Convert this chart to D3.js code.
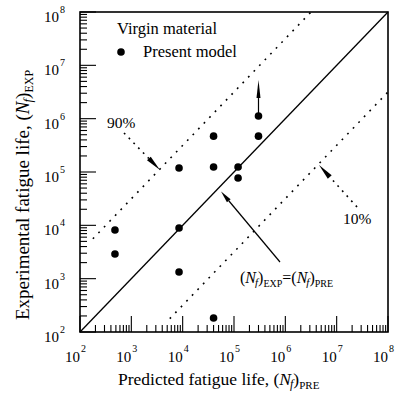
<!DOCTYPE html>
<html>
<head>
<meta charset="utf-8">
<script src="https://cdn.jsdelivr.net/npm/d3@7"></script>
<style>
  body { margin: 0; background: #fff; }
  svg { display: block; font-family: "Liberation Serif", "Times New Roman", serif; }
</style>
</head>
<body>
<div id="chart"></div>
<script>
// data (both axes are cycles to failure)
const predicted    = [480, 480, 8500, 8500, 8500, 3.0e5, 4.0e4, 3.0e5, 4.0e4, 1.2e5, 1.2e5, 4.0e4];
const experimental = [8200, 2900, 8900, 1330, 1.19e5, 1.12e6, 4.7e5, 4.7e5, 1.24e5, 1.24e5, 7.7e4, 183];
const decades = [1e2, 1e3, 1e4, 1e5, 1e6, 1e7, 1e8];
const exponents = [2, 3, 4, 5, 6, 7, 8];

// reference lines
const equalityLine = [[1e2, 1e2], [1e8, 1e8]];
const upperBand = [[178, 5.6e3], [3.16e6, 1e8]];   // 90 %
const lowerBand = [[5.6e3, 178], [1e8, 3.16e6]];   // 10 %

// annotations (data coordinates)
const note90 = { text: '90%', at: [336, 6.7e5], from: [720, 5.4e5], to: [3620, 1.09e5] };
const note10 = { text: '10%', at: [1.33e7, 1.06e4], from: [2.49e7, 2.21e4], to: [4.53e6, 1.35e5] };
const noteEq = { at: [1.31e5, 830], from: [7.87e5, 2054], to: [5.6e4, 4.3e4] };
const runout = { from: [3.0e5, 1.12e6], to: [3.0e5, 5.3e6] };

const W = 401, H = 398;
const box = { left: 80, right: 388, top: 12, bottom: 332 };

const svg = d3.select('#chart').append('svg')
  .attr('width', W)
  .attr('height', H);

const x = d3.scaleLog().domain([1e2, 1e8]).range([box.left, box.right]);
const y = d3.scaleLog().domain([1e2, 1e8]).range([box.bottom, box.top]);

// minor ticks 2..9 of every decade
const minors = [];
decades.slice(0, -1).forEach(d => {
  for (let k = 2; k <= 9; k++) minors.push(d * k);
});
const ticks = minors.map(v => ({ v, len: 7 }))
  .concat(decades.map(v => ({ v, len: 16 })));

// ticks point into the plot
svg.append('g')
  .selectAll('line')
  .data(ticks)
  .join('line')
  .attr('x1', d => x(d.v)).attr('x2', d => x(d.v))
  .attr('y1', box.bottom).attr('y2', d => box.bottom - d.len)
  .attr('stroke', '#000')
  .attr('stroke-width', 1.1);
svg.append('g')
  .selectAll('line')
  .data(ticks)
  .join('line')
  .attr('y1', d => y(d.v)).attr('y2', d => y(d.v))
  .attr('x1', box.left).attr('x2', d => box.left + d.len)
  .attr('stroke', '#000')
  .attr('stroke-width', 1.1);

// frame
svg.append('rect')
  .attr('x', box.left)
  .attr('y', box.top)
  .attr('width', box.right - box.left)
  .attr('height', box.bottom - box.top)
  .attr('fill', 'none')
  .attr('stroke', '#000')
  .attr('stroke-width', 1.6);

// tick labels: 10 with superscript exponent
decades.forEach((d, i) => {
  svg.append('text')
    .attr('x', x(d))
    .attr('y', 362)
    .attr('font-size', 15)
    .attr('text-anchor', 'end')
    .text('10');
  svg.append('text')
    .attr('x', x(d) + 1)
    .attr('y', 352)
    .attr('font-size', 10)
    .text(exponents[i]);

  svg.append('text')
    .attr('x', 59)
    .attr('y', y(d) + 10)
    .attr('font-size', 15)
    .attr('text-anchor', 'end')
    .text('10');
  svg.append('text')
    .attr('x', 60)
    .attr('y', y(d) + 1)
    .attr('font-size', 10)
    .text(exponents[i]);
});

// (N_f) with a subscript tag
function nfLabel(sel, tag, small) {
  sel.append('tspan').text('(');
  sel.append('tspan').attr('font-style', 'italic').text('N');
  sel.append('tspan').attr('font-style', 'italic').attr('font-size', small + 1)
    .attr('dy', 3).attr('dx', -1).text('f');
  sel.append('tspan').attr('dy', -3).text(')');
  sel.append('tspan').attr('font-size', small).attr('dy', 4).text(tag);
}

const xTitle = svg.append('text')
  .attr('x', 118)
  .attr('y', 385)
  .attr('font-size', 17.5);
xTitle.append('tspan').text('Predicted fatigue life, ');
nfLabel(xTitle, 'PRE', 11);

const yTitle = svg.append('text')
  .attr('transform', 'translate(29,320) rotate(-90)')
  .attr('font-size', 19);
yTitle.append('tspan').text('Experimental fatigue life, ');
nfLabel(yTitle, 'EXP', 12);

// lines
const line = d3.line().x(d => x(d[0])).y(d => y(d[1]));

svg.append('path')
  .attr('d', line(equalityLine))
  .attr('fill', 'none')
  .attr('stroke', '#000')
  .attr('stroke-width', 1.3);

[upperBand, lowerBand].forEach(band => {
  svg.append('path')
    .attr('d', line(band))
    .attr('fill', 'none')
    .attr('stroke', '#000')
    .attr('stroke-width', 1.6)
    .attr('stroke-dasharray', '1.8,6.2');
});

// arrow: shaft + slim triangular head
function arrow(from, to, dotted, headLen, headW) {
  const x1 = x(from[0]), y1 = y(from[1]), x2 = x(to[0]), y2 = y(to[1]);
  const a = Math.atan2(y2 - y1, x2 - x1);
  const bx = x2 - headLen * Math.cos(a), by = y2 - headLen * Math.sin(a);
  svg.append('line')
    .attr('x1', x1).attr('y1', y1).attr('x2', bx).attr('y2', by)
    .attr('stroke', '#000')
    .attr('stroke-width', dotted ? 1.6 : 1.2)
    .attr('stroke-dasharray', dotted ? '1.8,5' : null);
  const nx = -Math.sin(a) * headW, ny = Math.cos(a) * headW;
  svg.append('path')
    .attr('d', `M${x2},${y2}L${bx + nx},${by + ny}L${bx - nx},${by - ny}Z`)
    .attr('fill', '#000');
}

arrow(note90.from, note90.to, true, 16, 2.6);
arrow(note10.from, note10.to, true, 16, 2.6);
arrow(noteEq.from, noteEq.to, false, 12, 2.4);
arrow(runout.from, runout.to, false, 18, 2);

[note90, note10].forEach(n => {
  svg.append('text')
    .attr('x', x(n.at[0]))
    .attr('y', y(n.at[1]))
    .attr('font-size', 15.5)
    .text(n.text);
});

const eqText = svg.append('text')
  .attr('x', x(noteEq.at[0]))
  .attr('y', y(noteEq.at[1]))
  .attr('font-size', 16);
nfLabel(eqText, 'EXP', 10);
eqText.append('tspan').attr('dy', -4).text('=');
nfLabel(eqText, 'PRE', 10);

// points
svg.append('g')
  .selectAll('circle')
  .data(predicted.map((p, i) => [p, experimental[i]]))
  .join('circle')
  .attr('cx', d => x(d[0]))
  .attr('cy', d => y(d[1]))
  .attr('r', 3.8)
  .attr('fill', '#000');

// legend
svg.append('text')
  .attr('x', 117)
  .attr('y', 34)
  .attr('font-size', 16.5)
  .text('Virgin material');
svg.append('circle')
  .attr('cx', 121)
  .attr('cy', 52)
  .attr('r', 3.8)
  .attr('fill', '#000');
svg.append('text')
  .attr('x', 143)
  .attr('y', 57)
  .attr('font-size', 16.5)
  .text('Present model');
</script>
</body>
</html>
